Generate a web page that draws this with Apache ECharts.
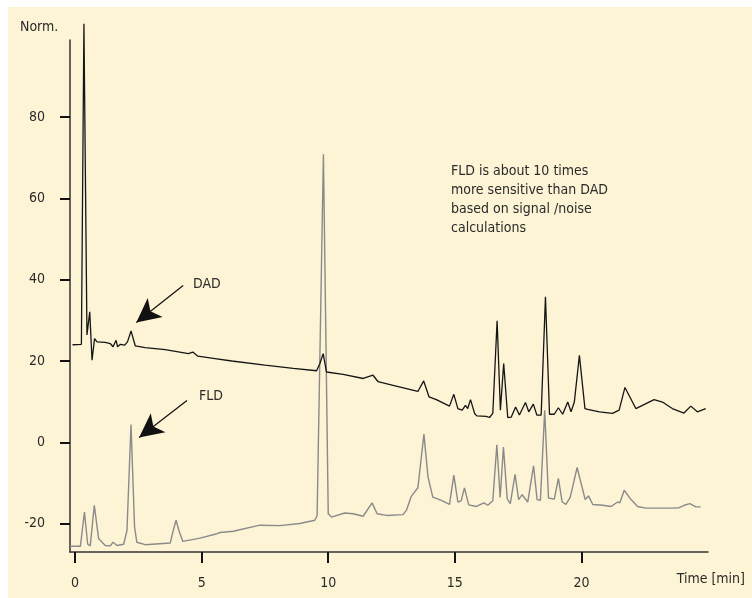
<!DOCTYPE html>
<html>
<head>
<meta charset="utf-8">
<script src="https://cdn.jsdelivr.net/npm/echarts@6/dist/echarts.min.js"></script>
<style>
html,body{margin:0;padding:0;background:#ffffff;}
#chart{width:752px;height:598px;}
</style>
</head>
<body>
<div id="chart"></div>
<script>
// Time [min] / Norm. response pairs
const dadTrace = [
  [-0.1,24.0],[0.25,24.1],[0.35,103],[0.47,26.4],[0.58,32.1],[0.67,20.2],[0.77,25.5],[0.87,24.7],
  [1.19,24.6],[1.39,24.3],[1.50,23.5],[1.62,25.1],[1.68,23.5],[1.79,24.1],[1.96,23.9],[2.07,24.7],
  [2.21,27.4],[2.38,23.7],[2.77,23.3],[3.56,22.8],[4.48,21.8],[4.65,22.2],[4.85,21.2],[5.53,20.6],
  [6.19,20.0],[7.50,19.0],[8.62,18.2],[9.54,17.6],[9.67,19.4],[9.80,21.8],[9.93,17.3],[10.59,16.7],
  [11.38,15.7],[11.77,16.5],[11.97,14.9],[12.56,14.0],[13.54,12.5],[13.77,15.1],[13.98,11.2],[14.27,10.5],
  [14.79,8.9],[14.96,11.8],[15.12,8.3],[15.29,7.9],[15.42,9.1],[15.51,8.3],[15.62,10.5],[15.78,7.1],
  [15.87,6.5],[16.24,6.4],[16.37,6.1],[16.50,7.1],[16.67,29.9],[16.80,7.9],[16.93,19.4],[17.09,6.1],
  [17.23,6.2],[17.40,8.7],[17.55,6.7],[17.79,9.8],[17.92,7.5],[18.10,9.4],[18.24,6.7],[18.41,6.7],
  [18.58,35.8],[18.74,6.9],[18.93,6.9],[19.09,8.5],[19.26,6.9],[19.46,9.9],[19.59,7.5],[19.72,9.9],
  [19.92,21.4],[20.14,8.3],[20.25,8.1],[20.71,7.5],[21.23,7.1],[21.49,7.9],[21.72,13.5],[22.15,8.3],
  [22.55,9.5],[22.87,10.5],[23.20,9.9],[23.59,8.3],[24.05,7.2],[24.32,8.9],[24.58,7.5],[24.91,8.3]
];
const fldTrace = [
  [-0.2,-25.6],[0.21,-25.6],[0.37,-17.2],[0.50,-25.1],[0.60,-25.5],[0.76,-15.5],[0.93,-23.7],[1.19,-25.4],
  [1.39,-25.5],[1.50,-24.6],[1.66,-25.4],[1.92,-25.1],[2.05,-21.7],[2.21,4.4],[2.35,-20.9],[2.44,-24.6],
  [2.77,-25.2],[3.76,-24.8],[3.86,-22.1],[3.99,-19.2],[4.12,-22.1],[4.26,-24.4],[4.94,-23.6],[5.60,-22.5],
  [5.73,-22.2],[6.25,-21.9],[7.30,-20.4],[8.09,-20.5],[8.88,-20.0],[9.47,-19.2],[9.56,-18.0],[9.81,70.9],
  [10.00,-17.6],[10.13,-18.4],[10.65,-17.4],[10.98,-17.6],[11.38,-18.2],[11.73,-14.9],[11.93,-17.6],[12.30,-18.0],
  [12.95,-17.8],[13.09,-16.7],[13.28,-13.3],[13.54,-11.2],[13.78,2.0],[13.94,-8.5],[14.13,-13.5],[14.47,-14.3],
  [14.79,-15.3],[14.96,-8.1],[15.12,-14.7],[15.25,-14.4],[15.38,-11.2],[15.55,-15.4],[15.85,-15.8],[16.15,-14.9],
  [16.30,-15.5],[16.50,-14.4],[16.66,-0.6],[16.79,-13.6],[16.92,-1.2],[17.07,-13.9],[17.19,-15.1],[17.38,-7.9],
  [17.52,-14.1],[17.66,-12.9],[17.88,-14.7],[18.11,-5.8],[18.25,-14.1],[18.38,-14.3],[18.55,7.9],[18.70,-13.7],
  [18.93,-14.0],[19.09,-8.9],[19.24,-14.7],[19.39,-15.3],[19.56,-13.5],[19.83,-6.2],[20.15,-14.1],[20.28,-13.2],
  [20.45,-15.3],[20.84,-15.5],[21.17,-15.8],[21.43,-14.7],[21.52,-14.9],[21.69,-11.8],[21.96,-14.1],[22.22,-15.8],
  [22.55,-16.2],[23.60,-16.2],[23.86,-16.1],[24.06,-15.5],[24.28,-15.1],[24.52,-15.9],[24.71,-15.9]
];
const xTicks = [0, 5, 10, 15, 20];
const yTicks = [-20, 0, 20, 40, 60, 80];
// annotation arrows: [start, tip] in data units
const dadArrow = [[4.27, 38.6], [2.42, 29.5]];
const fldArrow = [[4.42, 10.3], [2.53, 1.2]];

const FONT = '"DejaVu Sans Condensed","Liberation Sans Narrow",sans-serif';
const TXT = '#2a2a2a';
const AX = '#333333';

const chart = echarts.init(document.getElementById('chart'));
function arrowLine(a) {
  return [
    {coord: a[0], symbol: 'none'},
    {coord: a[1], symbol: 'arrow', symbolSize: [18, 24]}
  ];
}
chart.setOption({
  animation: false,
  backgroundColor: '#ffffff',
  graphic: [
    {type: 'rect', z: -10, shape: {x: 8, y: 7, width: 744, height: 591}, style: {fill: '#fdf4d6'}, silent: true},
    {type: 'text', left: 20, top: 20, style: {text: 'Norm.', fill: TXT, font: '14px ' + FONT}},
    {type: 'text', right: 7, top: 572, style: {text: 'Time [min]', fill: TXT, font: '14px ' + FONT}},
    {type: 'text', left: 193, top: 277, style: {text: 'DAD', fill: TXT, font: '14px ' + FONT}},
    {type: 'text', left: 199, top: 389, style: {text: 'FLD', fill: TXT, font: '14px ' + FONT}},
    {type: 'text', left: 451, top: 162, style: {
      text: 'FLD is about 10 times\nmore sensitive than DAD\nbased on signal /noise\ncalculations',
      fill: TXT, font: '14px ' + FONT, lineHeight: 19}}
  ],
  grid: {left: 70, right: 44, top: 40, bottom: 46},
  xAxis: {
    type: 'value', min: -0.2, max: 25,
    splitLine: {show: false},
    axisLine: {onZero: false, lineStyle: {color: AX, width: 1.5}},
    axisTick: {show: true, customValues: xTicks, length: 11, lineStyle: {color: '#111', width: 2}},
    axisLabel: {customValues: xTicks, margin: 24, color: TXT, fontFamily: FONT, fontSize: 14, formatter: v => String(v)}
  },
  yAxis: {
    type: 'value', min: -27, max: 99,
    splitLine: {show: false},
    axisLine: {show: true, onZero: false, lineStyle: {color: AX, width: 1.5}},
    axisTick: {show: true, customValues: yTicks, length: 10, lineStyle: {color: '#111', width: 2}},
    axisLabel: {customValues: yTicks, margin: 25, color: TXT, fontFamily: FONT, fontSize: 14, formatter: v => String(v)}
  },
  series: [
    {
      name: 'FLD', type: 'line', data: fldTrace, showSymbol: false, clip: false,
      lineStyle: {color: '#8a8a8a', width: 1.4}, z: 2,
      markLine: {
        silent: true, animation: false,
        lineStyle: {color: '#111', width: 1.2, type: 'solid'},
        label: {show: false},
        data: [arrowLine(fldArrow)]
      }
    },
    {
      name: 'DAD', type: 'line', data: dadTrace, showSymbol: false, clip: false,
      lineStyle: {color: '#151515', width: 1.3}, z: 3,
      markLine: {
        silent: true, animation: false,
        lineStyle: {color: '#111', width: 1.2, type: 'solid'},
        label: {show: false},
        data: [arrowLine(dadArrow)]
      }
    }
  ]
});
</script>
</body>
</html>
